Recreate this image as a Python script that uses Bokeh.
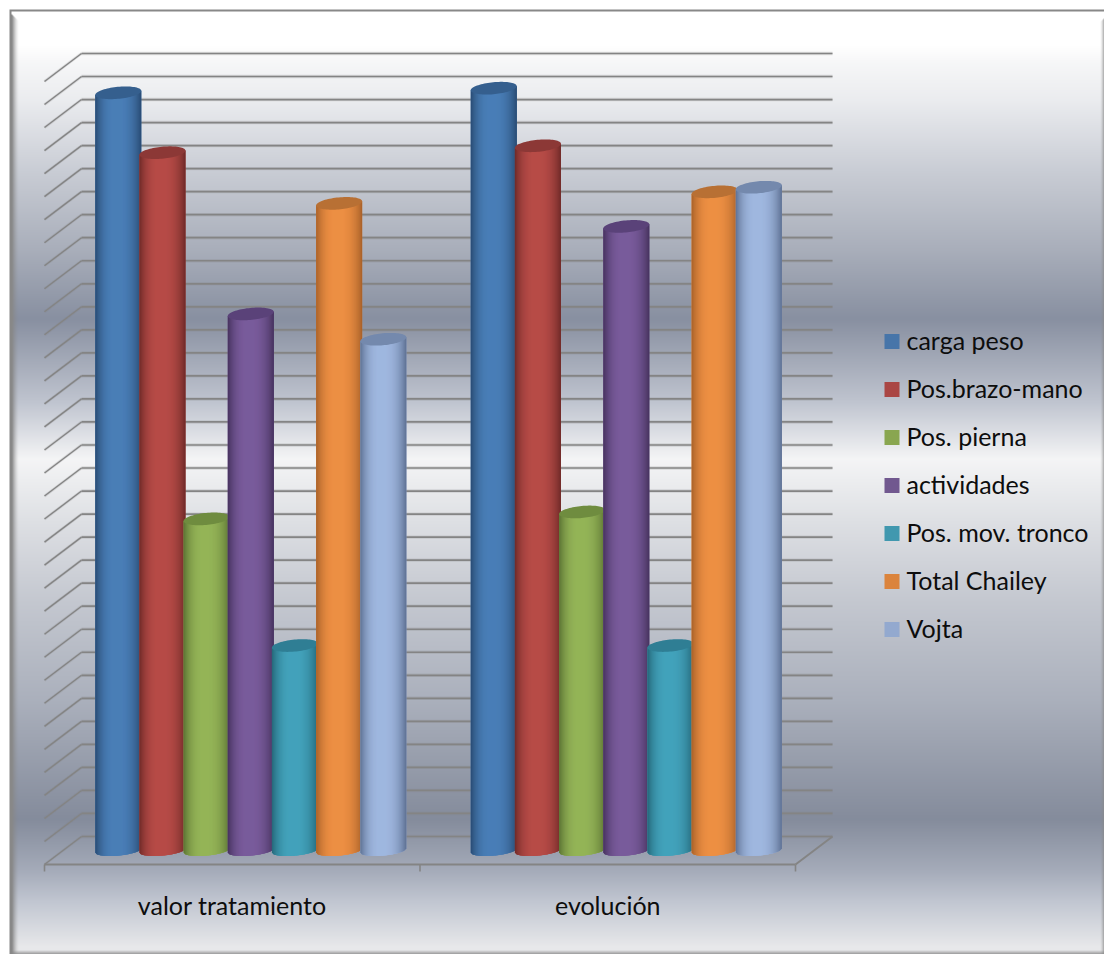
import numpy as np
from bokeh.core.properties import value
from bokeh.embed import file_html
from bokeh.models import Range1d
from bokeh.plotting import figure
from bokeh.resources import INLINE

# Chart data
groups = ["valor tratamiento", "evolución"]
series = ["carga peso", "Pos.brazo-mano", "Pos. pierna", "actividades",
          "Pos. mov. tronco", "Total Chailey", "Vojta"]
valor_tratamiento = [32.9, 30.3, 14.4, 23.3, 8.9, 28.1, 22.2]
evolucion = [33.1, 30.6, 14.7, 27.1, 8.9, 28.6, 28.8]
n_gridlines = 34

# Series colours: body, shaded edge, top cap, legend swatch
body = ["#4a7fb8", "#b84c48", "#95b558", "#7a5c9c", "#43a3bc", "#ee9044", "#a0b8e0"]
edge = ["#2a4c74", "#702b29", "#5c7434", "#47335f", "#26687a", "#a9622a", "#5f7294"]
cap = ["#355f8e", "#8c3836", "#6f8c3f", "#5a4279", "#2f7e94", "#b87034", "#7489ad"]
swatch = ["#4775a9", "#aa4644", "#89a650", "#71588f", "#4198af", "#db843d", "#93a9cf"]

# Page size and the scale of the two chart axes, in pixels per unit
W, H = 1104, 954
PX_GROUP = 375.5
PX_UNIT = 23.03
X0, Y0 = 44.0, 850.0
DEPTH_X, DEPTH_Y = 37.0, 28.0
BAR_SHARE = 1 / 8.5


def dx(px):
    return px / PX_GROUP


def dy(px):
    return px / PX_UNIT


def page_x(px):
    return (px - X0) / PX_GROUP


def page_y(px):
    return (Y0 - px) / PX_UNIT


def to_rgb(colour):
    return np.array([int(colour[k:k + 2], 16) for k in (1, 3, 5)], float)


p = figure(width=W, height=H, output_backend="svg", toolbar_location=None,
           x_range=Range1d(page_x(0), page_x(W)), y_range=Range1d(page_y(H), page_y(0)),
           min_border=0, outline_line_color=None, border_fill_color=None)
p.axis.visible = False
p.grid.visible = False

# Panel background with its horizontal bands and bevelled frame
stop_y = [0, 45, 62, 100, 170, 250, 318, 400, 458, 520, 600, 700, 818, 870, 900, 945, 954]
stop_v = [255, 255, 247, 236, 205, 174, 144, 196, 245, 224, 200, 176, 140, 172, 198, 232, 232]
tint_b = [0, 0, 1, 3, 8, 12, 17, 11, 1, 4, 8, 12, 16, 14, 11, 2, 2]
rows = np.arange(H)
v = np.interp(rows, stop_y, stop_v)
tint = np.interp(rows, stop_y, tint_b)
rgb = np.zeros((H, W, 3))
rgb[..., 0] = (v - tint * 0.45)[:, None]
rgb[..., 1] = v[:, None]
rgb[..., 2] = (v + tint).clip(0, 255)[:, None]
cols = np.arange(W)[None, :].repeat(H, axis=0).astype(float)
rr = rows[:, None].repeat(W, axis=1).astype(float)
frame = np.array([136.0, 136.0, 136.0])


def shade(mask_alpha):
    global rgb
    rgb = rgb * (1 - mask_alpha[..., None]) + frame * mask_alpha[..., None]


shade(np.clip((18 - cols) / 7, 0, 1) ** 1.6 * (rr > 12 + (cols - 10)))
shade(np.clip((cols - 1099) / 5, 0, 1) ** 1.6 * (rr > 16 + (1104 - cols)))
shade(np.clip((rr - 949) / 4, 0, 1) * 0.8)
rgb[:11, :] = frame
rgb[:, :11] = frame
rgb[:9, :] = 255
rgb[:, :9] = 255
rgba = np.dstack([rgb.clip(0, 255).astype(np.uint8), np.full((H, W), 255, np.uint8)])
img = rgba.view(np.uint32).reshape(H, W)
p.image_rgba(image=[img[::-1]], x=page_x(0), y=page_y(H), dw=dx(W), dh=dy(H))

# Walls and floor of the 3D box
values = np.arange(n_gridlines + 1)
wall_left = page_x(X0 + DEPTH_X)
wall_right = wall_left + len(groups)
back = values + dy(14)
front = values - dy(14)
line_grey = "#848484"
for w, a in [(3.4, 0.22), (1.7, 1.0)]:
    p.segment(x0=[wall_left] * len(values), y0=back, x1=[wall_right] * len(values), y1=back,
              line_color=line_grey, line_width=w, line_alpha=a)
for w, a in [(2.8, 0.2), (1.4, 1.0)]:
    p.segment(x0=[wall_left] * len(values), y0=back, x1=[0] * len(values), y1=front,
              line_color=line_grey, line_width=w, line_alpha=a)
p.segment(x0=[0, len(groups)], y0=[front[0]] * 2, x1=[len(groups), wall_right], y1=[front[0], back[0]],
          line_color=line_grey, line_width=2)
ticks = np.arange(len(groups) + 1)
p.segment(x0=ticks, y0=[front[0]] * len(ticks), x1=ticks, y1=[front[0] - dy(7)] * len(ticks),
          line_color=line_grey, line_width=1.6)

# Cylinders: an opaque silhouette, narrow shaded strips over it, then a tilted elliptical cap
RX, RY, TILT = 23.0, 6.0, 0.09
STRIP = 2.0


def lower_edge(o):
    u = np.clip(np.asarray(o, float) / RX, -1, 1)
    return -dy(RY * 0.85 * np.sqrt(1 - u ** 2) - TILT * np.asarray(o, float))


for g, row in enumerate([valor_tratamiento, evolucion]):
    for i, val in enumerate(row):
        centre = g + 0.5 + dx(DEPTH_X / 2) + (i - 3) * BAR_SHARE
        b0, e0 = to_rgb(body[i]), to_rgb(edge[i])
        rim = np.linspace(-RX, RX, 60)
        sil_x = np.concatenate([rim, [RX, -RX]])
        sil_y = np.concatenate([lower_edge(rim), [val + dy(TILT * RX), val - dy(TILT * RX)]])
        p.patch(centre + dx(sil_x), sil_y, fill_color=body[i], line_color=None)
        xs, ys, fills = [], [], []
        for o in np.arange(-RX, RX, 1.0):
            o1 = min(o + STRIP, RX)
            mid = o + 0.5
            peak = -0.08 * RX
            t = (mid - peak) / (RX - peak) if mid > peak else (peak - mid) / (RX + peak)
            col = b0 + (e0 - b0) * t ** 2.6
            xs.append(list(centre + dx(np.array([o, o1, o1, o]))))
            ys.append([lower_edge(o), lower_edge(o1), val + dy(TILT * o1), val + dy(TILT * o)])
            fills.append("#%02x%02x%02x" % tuple(int(c) for c in col))
        p.patches(xs, ys, fill_color=fills, line_color=None)
        th = np.linspace(0, 2 * np.pi, 80)
        ex = RX * np.cos(th)
        ey = RY * np.sin(th) + TILT * ex
        p.patch(centre + dx(ex), val + dy(ey), fill_color=cap[i], line_color=None)

# Category labels
centres = np.arange(len(groups)) + 0.5
p.text(x=centres, y=[page_y(904.5)] * 2, text=groups, text_font=value("Lato"), text_font_size="25px",
       text_align="center", text_baseline="middle", text_color="#0d0d0d")

# Legend
legend_y = [page_y(341 + 48 * i) for i in range(len(series))]
p.rect(x=[page_x(891.5)] * len(series), y=legend_y, width=dx(15), height=dy(15),
       fill_color=swatch, line_color=None)
p.text(x=[page_x(906)] * len(series), y=[y + dy(1.5) for y in legend_y], text=series,
       text_font=value("Lato"), text_font_size="25px", text_align="left", text_baseline="middle",
       text_color="#0d0d0d")

open("out.html", "w").write(file_html(p, INLINE))
